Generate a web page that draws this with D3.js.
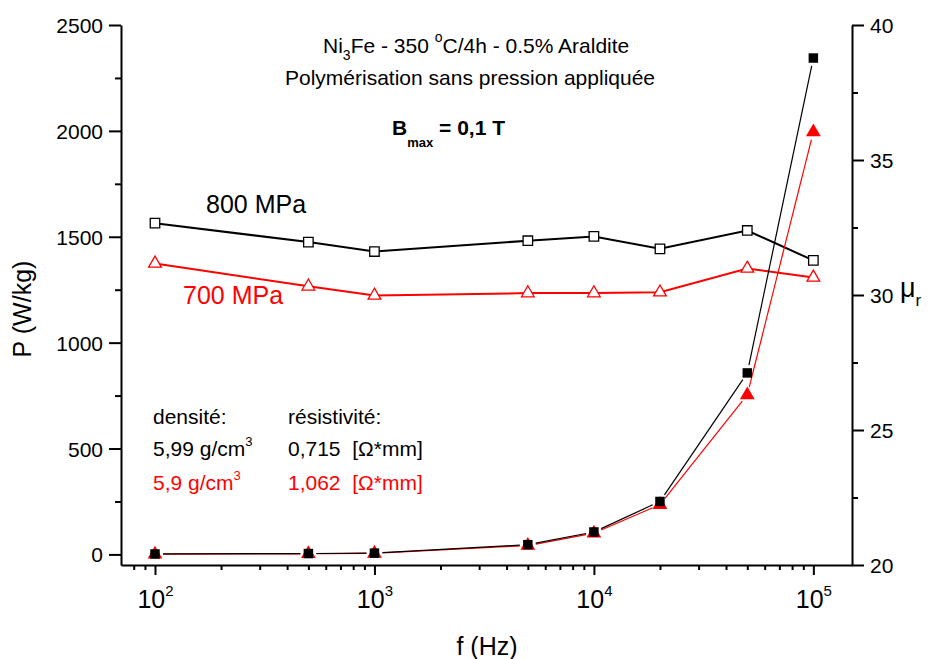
<!DOCTYPE html>
<html>
<head>
<meta charset="utf-8">
<script src="https://cdn.jsdelivr.net/npm/d3@7"></script>
<style>
  html, body { margin: 0; padding: 0; background: #fff; }
  svg { display: block; font-family: "Liberation Sans", Arial, sans-serif; }
</style>
</head>
<body>
<svg id="chart" width="934" height="659"></svg>
<script>
// ---------- data ----------
const freqs = [100, 500, 1000, 5000, 10000, 20000, 50000, 100000];
// losses P (W/kg), left axis
const P800 = [2, 4, 6, 46, 106, 250, 857, 2344];
const P700 = [1, 3, 5, 42, 100, 235, 753, 1995];
// relative permeability mu_r, right axis
const mu800 = [32.66, 31.96, 31.61, 32.01, 32.17, 31.71, 32.39, 31.28];
const mu700 = [31.17, 30.32, 29.98, 30.07, 30.07, 30.10, 30.98, 30.65];

const xMajorTicks = [100, 1000, 10000, 100000];
const xMinorTicks = [80, 90, 200, 300, 400, 500, 600, 700, 800, 900,
  2000, 3000, 4000, 5000, 6000, 7000, 8000, 9000,
  20000, 30000, 40000, 50000, 60000, 70000, 80000, 90000];
const yLeftMajor = [0, 500, 1000, 1500, 2000, 2500];
const yLeftMinor = [250, 750, 1250, 1750, 2250];
const yRightMajor = [20, 25, 30, 35, 40];
const yRightMinor = [22.5, 27.5, 32.5, 37.5];

// ---------- layout ----------
const svg = d3.select("#chart");
const L = 121, R = 852, T = 25, B = 565;
const black = "#000", red = "#ff0000";

const x = d3.scaleLog().domain([70, 150000]).range([L, R]);
const yL = d3.scaleLinear().domain([-50, 2500]).range([B, T]);
const yR = d3.scaleLinear().domain([20, 40]).range([B, T]);

// ---------- axes ----------
const fontTick = 21;

// bottom minor
svg.append("g").attr("transform", `translate(0,${B})`)
  .call(d3.axisBottom(x).tickValues(xMinorTicks).tickSize(5).tickFormat(""))
  .call(g => g.select(".domain").remove());
// bottom major
const gx = svg.append("g").attr("transform", `translate(0,${B})`)
  .call(d3.axisBottom(x).tickValues(xMajorTicks).tickSize(10).tickSizeOuter(0).tickFormat(""));
gx.selectAll(".tick").each(function(d) {
  const t = d3.select(this).append("text")
    .attr("y", 43).attr("fill", black).attr("text-anchor", "middle")
    .style("font-size", "25px");
  t.append("tspan").text("10");
  t.append("tspan").attr("dy", -12).style("font-size", "15px").text(Math.round(Math.log10(d)));
});

// left minor
svg.append("g").attr("transform", `translate(${L},0)`)
  .call(d3.axisLeft(yL).tickValues(yLeftMinor).tickSize(6).tickFormat(""))
  .call(g => g.select(".domain").remove());
// left major
svg.append("g").attr("transform", `translate(${L},0)`)
  .call(d3.axisLeft(yL).tickValues(yLeftMajor).tickSize(12).tickSizeOuter(0).tickPadding(6).tickFormat(d3.format("d")))
  .call(g => g.selectAll("text").style("font-size", fontTick + "px").attr("fill", black).attr("dy", "0.36em"));

// right minor
svg.append("g").attr("transform", `translate(${R},0)`)
  .call(d3.axisRight(yR).tickValues(yRightMinor).tickSize(6).tickFormat(""))
  .call(g => g.select(".domain").remove());
// right major
svg.append("g").attr("transform", `translate(${R},0)`)
  .call(d3.axisRight(yR).tickValues(yRightMajor).tickSize(12).tickSizeOuter(0).tickPadding(6).tickFormat(d3.format("d")))
  .call(g => g.selectAll("text").style("font-size", fontTick + "px").attr("fill", black).attr("dy", "0.36em"));

svg.selectAll(".domain, .tick line").attr("stroke", black).attr("stroke-width", 2);

// axis titles
svg.append("text").attr("transform", "translate(31,309) rotate(-90)")
  .attr("text-anchor", "middle").style("font-size", "25px").attr("fill", black).text("P (W/kg)");
svg.append("text").attr("x", 487).attr("y", 655)
  .attr("text-anchor", "middle").style("font-size", "25px").attr("fill", black).text("f (Hz)");
const mu = svg.append("text").attr("x", 900).attr("y", 297).style("font-size", "27px").attr("fill", black);
mu.append("tspan").text("μ");
mu.append("tspan").attr("dy", 9).style("font-size", "17px").text("r");

// ---------- series ----------
// mu_r lines (thick) with open markers
function muSeries(vals, color) {
  svg.append("path").datum(vals)
    .attr("fill", "none").attr("stroke", color).attr("stroke-width", 2)
    .attr("d", d3.line().x((d, i) => x(freqs[i])).y(d => yR(d)));
}
muSeries(mu800, black);
muSeries(mu700, red);

// P lines (thin) drawn as segments with gaps near markers
function pSeries(vals, color, gap) {
  const pts = vals.map((d, i) => [x(freqs[i]), yL(d)]);
  for (let i = 0; i < pts.length - 1; i++) {
    const [x0, y0] = pts[i], [x1, y1] = pts[i + 1];
    const len = Math.hypot(x1 - x0, y1 - y0);
    if (len <= 2 * gap) continue;
    const ux = (x1 - x0) / len, uy = (y1 - y0) / len;
    svg.append("line")
      .attr("x1", x0 + ux * gap).attr("y1", y0 + uy * gap)
      .attr("x2", x1 - ux * gap).attr("y2", y1 - uy * gap)
      .attr("stroke", color).attr("stroke-width", 1.2);
  }
}
pSeries(P700, red, 8);
pSeries(P800, black, 8);

const triSym = d3.symbol().type(d3.symbolTriangle).size(70);
const sqSym = d3.symbol().type(d3.symbolSquare).size(90);

// open markers for mu
svg.append("g").selectAll("path").data(mu700).join("path")
  .attr("transform", (d, i) => `translate(${x(freqs[i])},${yR(d)})`)
  .attr("d", triSym).attr("fill", "#fff").attr("stroke", red).attr("stroke-width", 1.3);
svg.append("g").selectAll("path").data(mu800).join("path")
  .attr("transform", (d, i) => `translate(${x(freqs[i])},${yR(d)})`)
  .attr("d", sqSym).attr("fill", "#fff").attr("stroke", black).attr("stroke-width", 1.3);

// filled markers for P
svg.append("g").selectAll("path").data(P700).join("path")
  .attr("transform", (d, i) => `translate(${x(freqs[i])},${yL(d)})`)
  .attr("d", d3.symbol().type(d3.symbolTriangle).size(95)).attr("fill", red);
svg.append("g").selectAll("path").data(P800).join("path")
  .attr("transform", (d, i) => `translate(${x(freqs[i])},${yL(d)})`)
  .attr("d", sqSym).attr("fill", black);

// ---------- annotations ----------
const t1 = svg.append("text").attr("x", 323).attr("y", 53).style("font-size", "21px").attr("fill", black);
t1.append("tspan").text("Ni");
t1.append("tspan").attr("dy", 7).style("font-size", "14px").text("3");
t1.append("tspan").attr("dy", -7).text("Fe - 350 ");
t1.append("tspan").attr("dy", -11).style("font-size", "14px").text("o");
t1.append("tspan").attr("dy", 11).text("C/4h - 0.5% Araldite");

svg.append("text").attr("x", 470).attr("y", 85).attr("text-anchor", "middle")
  .style("font-size", "21px").attr("fill", black).text("Polymérisation sans pression appliquée");

const bt = svg.append("text").attr("x", 392).attr("y", 135).style("font-size", "21px")
  .style("font-weight", "bold").attr("fill", black);
bt.append("tspan").text("B");
bt.append("tspan").attr("dy", 12).style("font-size", "13px").text("max");
bt.append("tspan").attr("dy", -12).text(" = 0,1 T");

svg.append("text").attr("x", 206).attr("y", 213).style("font-size", "25px").attr("fill", black).text("800 MPa");
svg.append("text").attr("x", 183).attr("y", 304).style("font-size", "25px").attr("fill", red).text("700 MPa");

function supLine(xp, yp, main, sup, color) {
  const t = svg.append("text").attr("x", xp).attr("y", yp).style("font-size", "21px").attr("fill", color);
  t.append("tspan").text(main);
  t.append("tspan").attr("dy", -10).style("font-size", "13px").text(sup);
}
svg.append("text").attr("x", 153).attr("y", 424).style("font-size", "21px").attr("fill", black).text("densité:");
svg.append("text").attr("x", 288).attr("y", 424).style("font-size", "21px").attr("fill", black).text("résistivité:");
supLine(153, 456, "5,99 g/cm", "3", black);
supLine(153, 490, "5,9 g/cm", "3", red);
svg.append("text").attr("x", 288).attr("y", 456).style("font-size", "21px").attr("fill", black)
  .style("white-space", "pre").attr("xml:space", "preserve").text("0,715  [Ω*mm]");
svg.append("text").attr("x", 288).attr("y", 490).style("font-size", "21px").attr("fill", red)
  .style("white-space", "pre").attr("xml:space", "preserve").text("1,062  [Ω*mm]");
</script>
</body>
</html>
